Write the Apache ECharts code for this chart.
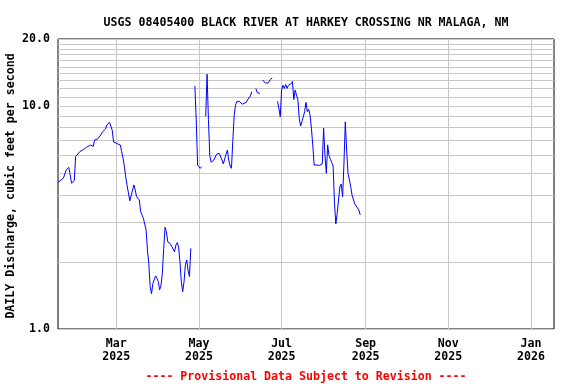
<!DOCTYPE html>
<html>
<head>
<meta charset="utf-8">
<script src="https://cdn.jsdelivr.net/npm/echarts@6/dist/echarts.min.js"></script>
<style>
html, body { margin: 0; padding: 0; background: #fff; }
#main { width: 576px; height: 384px; }
</style>
</head>
<body>
<div id="main"></div>
<script>
// day of year 2025 (Jan 1 = 1); null flow = no record, breaks the line
var days = [17, 21, 23, 25, 26, 27, 29, 30, 33, 36, 38, 41, 43, 44, 46, 48, 50, 52, 53, 55, 56, 57, 58, 60, 61, 63, 64, 65, 66, 67, 68, 70, 71, 73, 74, 75, 77, 78, 80, 82, 83, 84, 85, 86, 87, 89, 90, 91, 92, 93, 94, 95, 96, 97, 98, 100, 101, 103, 104, 105, 106, 107, 108, 109, 110, 111, 112, 113, 114, 115, 116,
  118, 119, 120, 122, 123, 124,
  126, 127, 128, 129, 130, 131, 132, 134, 136, 137, 138, 139, 141, 142, 143, 144, 145, 146, 147, 148, 149, 151, 153, 154, 156, 157, 159, 160, 161,
  163, 164, 166, 167,
  168, 170, 172, 174, 175, 176,
  179, 180, 181, 182, 183, 184, 185, 186, 187, 189, 190, 191, 192, 193, 194, 195, 196, 197, 198, 199, 200, 201, 202, 203, 204, 205, 206, 207, 208, 210, 212, 213, 214, 215, 216, 217, 218, 219, 220, 221, 222, 223, 224, 225, 226, 227, 228, 229, 230, 231, 232, 233, 234, 235, 236, 237, 239, 240];
var flow = [4.55, 4.75, 5.17, 5.31, 4.91, 4.51, 4.63, 5.93, 6.24, 6.40, 6.53, 6.69, 6.6, 7.05, 7.10, 7.34, 7.68, 7.89, 8.23, 8.46, 8.4, 7.8, 6.9, 6.81, 6.75, 6.69, 6.24, 5.83, 5.35, 4.8, 4.4, 3.76, 3.79, 4.43, 4.20, 3.92, 3.79, 3.36, 3.14, 2.78, 2.26, 1.97, 1.55, 1.44, 1.60, 1.73, 1.69, 1.63, 1.50, 1.57, 1.78, 2.3, 2.86, 2.73, 2.46, 2.41, 2.34, 2.22, 2.38, 2.44, 2.33, 2.00, 1.63, 1.47, 1.63, 1.94, 2.04, 1.83, 1.72, 2.30, null,
  12.3, 8.7, 5.44, 5.26, 5.35, null,
  9.0, 13.9, 8.7, 6.0, 5.6, 5.5, 5.73, 6.08, 6.14, 6.18, 5.73, 5.50, 6.08, 6.35, 5.73, 5.39, 5.26, 7.0, 9.1, 10.1, 10.5, 10.5, 10.2, 10.4, 10.4, 10.7, 11.1, 11.6, null,
  12.0, 11.5, 11.4, null,
  13.1, 12.7, 12.7, 13.2, 13.4, null,
  10.5, 9.78, 8.96, 11.8, 12.4, 12.0, 12.5, 12.0, 12.4, 12.6, 12.9, 10.7, 11.8, 11.2, 10.7, 8.82, 8.14, 8.51, 8.96, 9.44, 10.4, 9.44, 9.67, 9.12, 7.95, 6.69, 5.44, 5.35, 5.44, 5.42, 5.50, 7.95, 6.0, 5.0, 6.7, 6.0, 5.77, 5.73, 5.39, 3.7, 2.96, 3.30, 3.79, 4.35, 4.47, 3.92, 5.5, 8.5, 6.35, 5.0, 5.0, 4.35, 3.98, 3.92, 3.64, 3.64, 3.42, 3.25];

var tickMonths = [[2025, 2], [2025, 4], [2025, 6], [2025, 8], [2025, 10], [2026, 0]];
var monthNames = ['Jan', 'Feb', 'Mar', 'Apr', 'May', 'Jun', 'Jul', 'Aug', 'Sep', 'Oct', 'Nov', 'Dec'];
var yLabels = [1, 10, 20];
var yGrid = [1, 2, 3, 4, 5, 6, 7, 8, 9, 10, 11, 12, 13, 14, 15, 16, 17, 18, 19, 20];

var FONT = '"DejaVu Sans Mono", monospace';

var seriesData = days.map(function (d, i) {
  return [new Date(2025, 0, d).getTime(), flow[i]];
});
var xTicks = tickMonths.map(function (m) { return new Date(m[0], m[1], 1).getTime(); });

var myChart = echarts.init(document.getElementById('main'));

var option = {
  animation: false,
  backgroundColor: '#fff',
  title: [
    {
      text: 'USGS 08405400 BLACK RIVER AT HARKEY CROSSING NR MALAGA, NM',
      left: 301, top: 12, textAlign: 'center',
      textStyle: { fontFamily: FONT, fontWeight: 'bold', fontSize: 11.6, color: '#000' }
    },
    {
      text: '---- Provisional Data Subject to Revision ----',
      left: 301, top: 366, textAlign: 'center',
      textStyle: { fontFamily: FONT, fontWeight: 'bold', fontSize: 11.6, color: '#ff0000' }
    }
  ],
  graphic: [{
    type: 'text',
    x: 11, y: 186,
    rotation: Math.PI / 2,
    style: {
      text: 'DAILY Discharge, cubic feet per second',
      font: 'bold 11.6px "DejaVu Sans Mono", monospace',
      fill: '#000', align: 'center', verticalAlign: 'middle'
    }
  }],
  grid: {
    left: 58, right: 22, top: 39, bottom: 55,
    show: true, borderColor: '#000', borderWidth: 1, backgroundColor: 'transparent'
  },
  xAxis: {
    type: 'value',
    min: new Date(2025, 0, 17).getTime(),
    max: new Date(2026, 0, 18).getTime(),
    axisLine: { show: false },
    axisTick: { show: false, customValues: xTicks },
    splitLine: { show: true, lineStyle: { color: '#c8c8c8', width: 1 } },
    axisLabel: {
      customValues: xTicks,
      margin: 8,
      fontFamily: FONT, fontWeight: 'bold', fontSize: 11.6, color: '#000', lineHeight: 13,
      formatter: function (v) {
        var d = new Date(v);
        return monthNames[d.getMonth()] + '\n' + d.getFullYear();
      }
    }
  },
  yAxis: {
    type: 'log',
    logBase: 10,
    min: 1, max: 20,
    axisLine: { show: false },
    axisTick: { show: false, customValues: yGrid },
    splitLine: { show: true, lineStyle: { color: '#c8c8c8', width: 1 } },
    axisLabel: {
      customValues: yLabels,
      margin: 8,
      padding: [4, 0, 0, 0],
      fontFamily: FONT, fontWeight: 'bold', fontSize: 11.6, color: '#000',
      formatter: function (v) { return Number(v).toFixed(1); }
    }
  },
  series: [{
    type: 'line',
    data: seriesData,
    showSymbol: false,
    connectNulls: false,
    lineStyle: { color: '#0000ff', width: 1 },
    itemStyle: { color: '#0000ff' }
  }]
};

myChart.setOption(option);
</script>
</body>
</html>
